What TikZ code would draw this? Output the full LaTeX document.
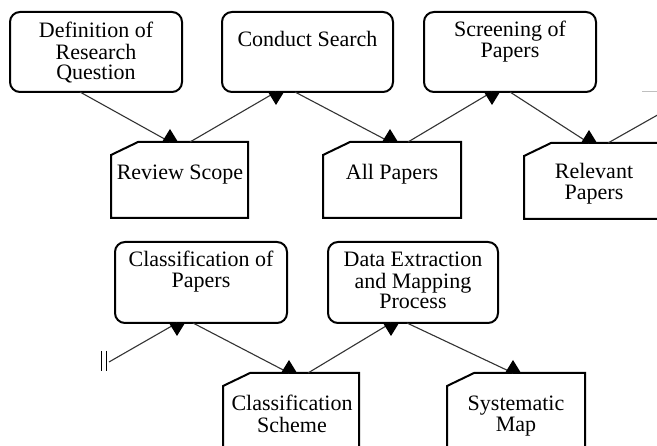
\documentclass[tikz,border=0pt]{standalone}
\usepackage{fontspec}
\setmainfont{Liberation Serif}
\usetikzlibrary{calc}
\newcommand\lines[1]{\begin{tabular}[t]{@{}c@{}}#1\end{tabular}}
\newcommand\uptri[1]{\fill[black] (#1) ++(-8,0) -- ++(16,0) -- ++(-8,-13) -- cycle;}
\newcommand\downtri[1]{\fill[black] (#1) ++(-8,0) -- ++(16,0) -- ++(-8,13) -- cycle;}
\newcommand\docoutline[1]{\draw[boxline] ($(#1.north west)+(0,13)$) -- ($(#1.north west)+(27,0)$) -- (#1.north east) -- (#1.south east) -- (#1.south west) -- cycle;}
\tikzset{
  boxline/.style={line width=2pt, line join=miter},
  rbox/.style={draw, line width=2pt, rounded corners=10pt, inner sep=0pt, outer sep=0pt, minimum height=80pt},
  dbox/.style={draw=none, inner sep=0pt, outer sep=0pt, minimum height=76pt},
  txt/.style={anchor=base, inner sep=0pt, font=\fontsize{22}{19.5}\selectfont},
  conn/.style={draw=black!80, line width=1.1pt},
}
\begin{document}
\begin{tikzpicture}[x=1pt,y=-1pt]
\useasboundingbox (0,0) rectangle (657,446);
\fill[white] (0,0) rectangle (657,446);
\clip (0,0) rectangle (657,446);

% top row process boxes
\node[rbox, minimum width=172pt] (def) at (96,52) {};
\node[rbox, minimum width=171pt] (cs) at (307.5,52) {};
\node[rbox, minimum width=172pt] (scr) at (510,52) {};
% top row documents
\node[dbox, minimum width=137pt] (rs) at (179.5,180) {};
\node[dbox, minimum width=138pt] (ap) at (392,180) {};
\node[dbox, minimum width=140pt] (rp) at (594,181) {};
\docoutline{rs}
\docoutline{ap}
\docoutline{rp}
% bottom row process boxes
\node[rbox, minimum width=172pt, minimum height=81pt] (clp) at (201,282.5) {};
\node[rbox, minimum width=170pt, minimum height=81pt] (dex) at (413,282.5) {};
% bottom row documents
\node[dbox, minimum width=136pt] (csch) at (291,411) {};
\node[dbox, minimum width=138pt] (sm) at (516,411) {};
\docoutline{csch}
\docoutline{sm}

% texts
\node[txt] (def-t) at (96,38) {\lines{Definition of\\Research\\Question}};
\node[txt] (cs-t) at (307.5,47) {Conduct Search};
\node[txt] (scr-t) at (510,37) {\lines{Screening of\\Papers}};
\node[txt] (rs-t) at (180,180) {Review Scope};
\node[txt] (ap-t) at (392,180) {All Papers};
\node[txt] (rp-t) at (594,179) {\lines{Relevant\\Papers}};
\node[txt] (clp-t) at (201,267) {\lines{Classification of\\Papers}};
\node[txt] (dex-t) at (413,267) {\lines{Data Extraction\\and Mapping\\Process}};
\node[txt] (csch-t) at (292,411) {\lines{Classification\\Scheme}};
\node[txt] (sm-t) at (516,411) {\lines{Systematic\\Map}};

% tip coordinates
\coordinate (t1) at ([xshift=-9.5pt]rs.north);
\coordinate (t2) at ([xshift=-31.5pt]cs.south);
\coordinate (t3) at ([xshift=-2pt]ap.north);
\coordinate (t4) at ([xshift=-18pt]scr.south);
\coordinate (t5) at ([xshift=-5pt]rp.north);
\coordinate (off) at (700,91);
\coordinate (brk) at (109,362);
\coordinate (t7) at ([xshift=-24pt]clp.south);
\coordinate (t8) at ([xshift=-2pt]csch.north);
\coordinate (t9) at ([xshift=-22pt]dex.south);
\coordinate (t10) at ([xshift=-3pt]sm.north);

% connectors
\draw[conn] ([xshift=-16pt]def.south) -- (t1);
\draw[conn] ([xshift=10.5pt]rs.north) -- (t2);
\draw[conn] ([xshift=-12.5pt]cs.south) -- (t3);
\draw[conn] ([xshift=16pt]ap.north) -- (t4);
\draw[conn] (scr.south) -- (t5);
\draw[conn] ([xshift=14pt]rp.north) -- (off);
\draw[conn] (brk) -- (t7);
\draw[conn] ([xshift=-8pt]clp.south) -- (t8);
\draw[conn] ([xshift=17pt]csch.north) -- (t9);
\draw[conn] ([xshift=-6pt]dex.south) -- (t10);
\uptri{t1}
\downtri{t2}
\uptri{t3}
\downtri{t4}
\uptri{t5}
\downtri{t7}
\uptri{t8}
\downtri{t9}
\uptri{t10}

% break mark
\draw[line width=1.1pt] (101.7,351) -- (101.7,371);
\draw[line width=1.1pt] (106.5,351) -- (106.5,371);
% faint edge of next box at top right
\draw[black!25, line width=1pt] (642,92) -- (657,92);
\end{tikzpicture}
\end{document}
